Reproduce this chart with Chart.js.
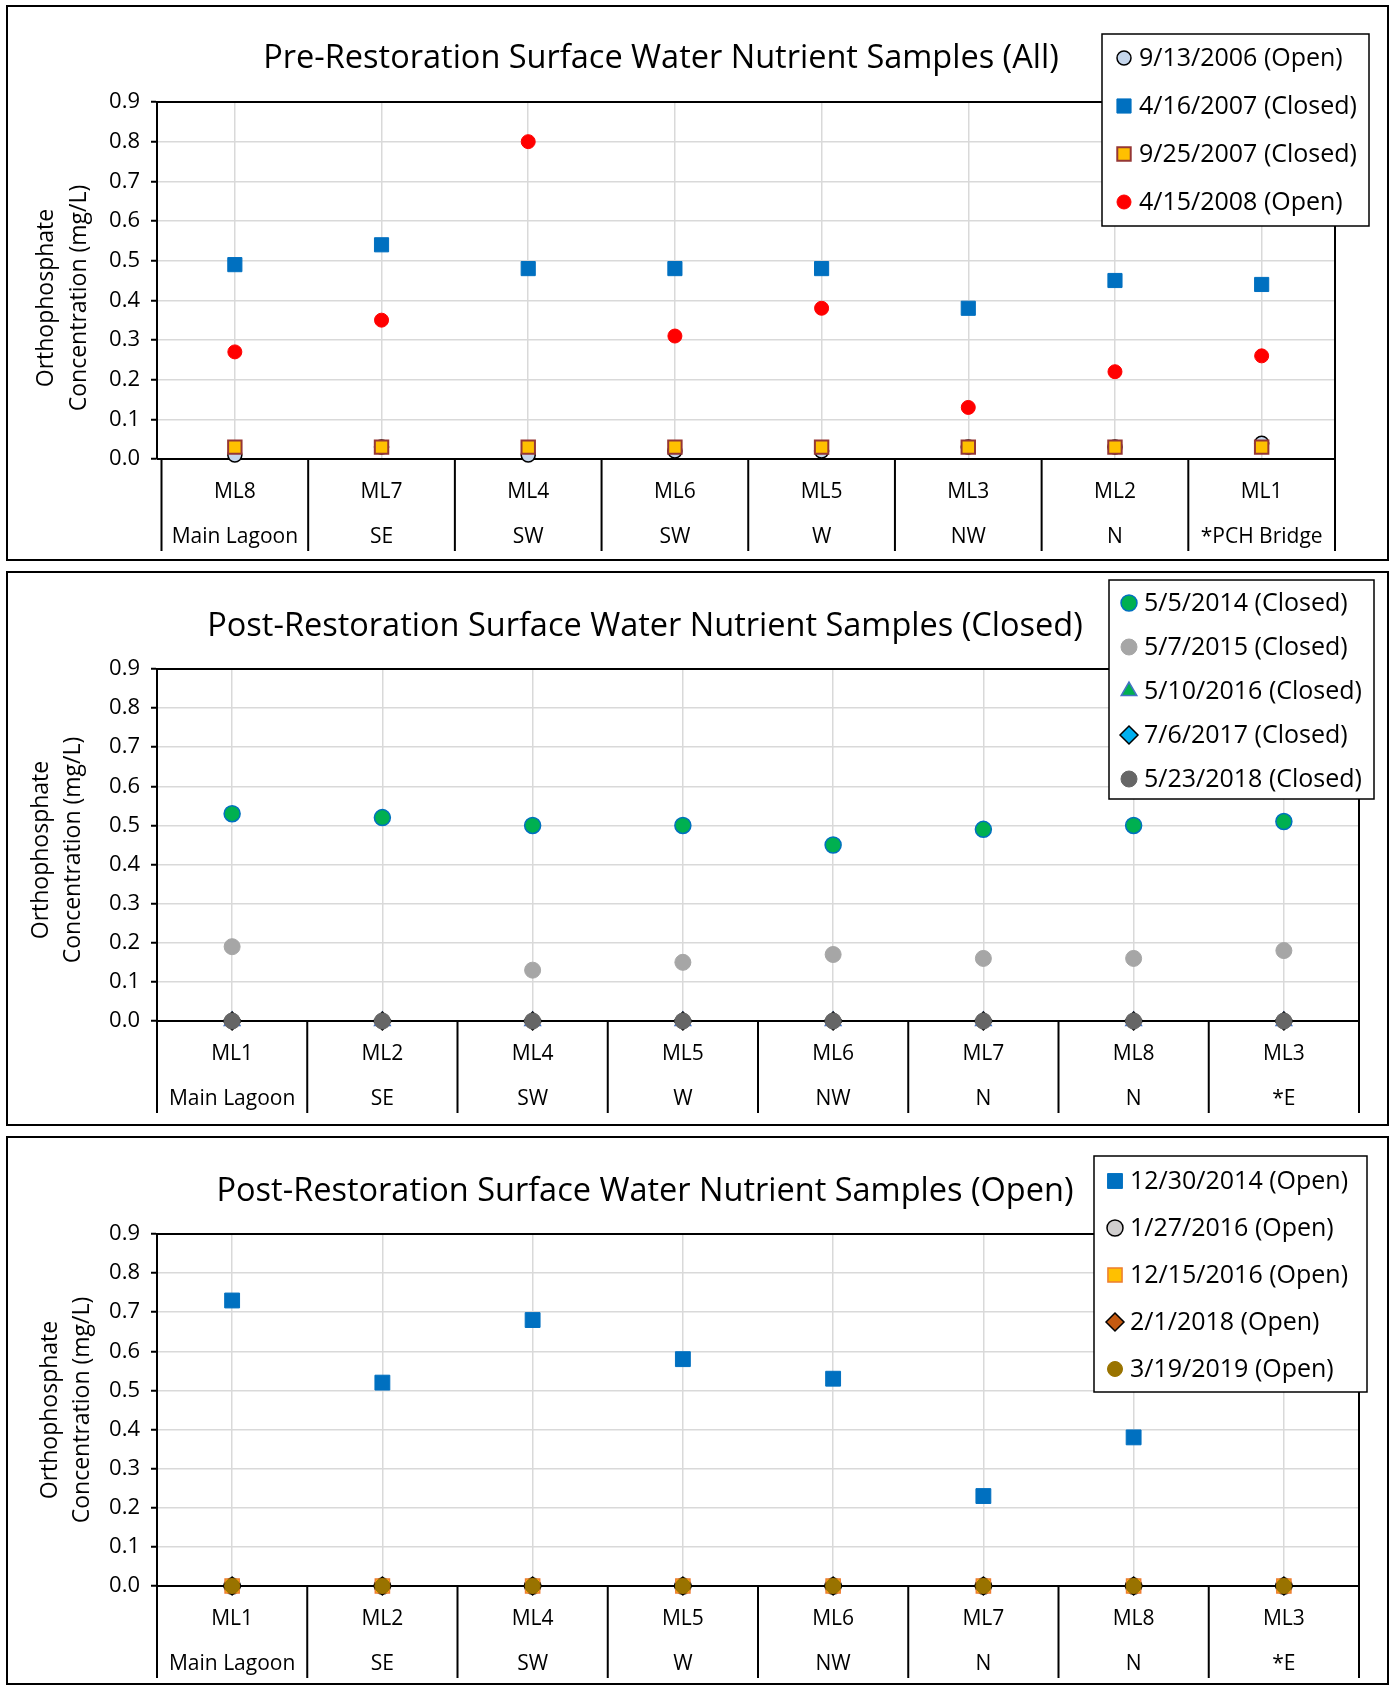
<!DOCTYPE html>
<html>
<head>
<meta charset="utf-8">
<script src="https://cdn.jsdelivr.net/npm/chart.js@4.4.0/dist/chart.umd.min.js"></script>
<style>
  body { margin: 0; background: #fff; width: 1391px; height: 1688px; position: relative; }
  .panel { position: absolute; left: 6px; width: 1383px; box-sizing: border-box; border: 2px solid #000; }
  canvas { position: absolute; left: 6px; }
</style>
</head>
<body>
<div class="panel" style="top:5px;height:556px"></div>
<canvas id="pre" width="1383" height="556" style="top:5px"></canvas>
<div class="panel" style="top:571px;height:555px"></div>
<canvas id="closed" width="1383" height="555" style="top:571px"></canvas>
<div class="panel" style="top:1136px;height:549px"></div>
<canvas id="open" width="1383" height="549" style="top:1136px"></canvas>
<script>
// pre-restoration
const preSites = ['ML8', 'ML7', 'ML4', 'ML6', 'ML5', 'ML3', 'ML2', 'ML1'];
const preAreas = ['Main Lagoon', 'SE', 'SW', 'SW', 'W', 'NW', 'N', '*PCH Bridge'];
const preSeries = ['9/13/2006 (Open)', '4/16/2007 (Closed)', '9/25/2007 (Closed)', '4/15/2008 (Open)'];
const preSep2006 = [0.01, 0.03, 0.01, 0.02, 0.02, 0.03, 0.03, 0.04];
const preApr2007 = [0.49, 0.54, 0.48, 0.48, 0.48, 0.38, 0.45, 0.44];
const preSep2007 = [0.03, 0.03, 0.03, 0.03, 0.03, 0.03, 0.03, 0.03];
const preApr2008 = [0.27, 0.35, 0.80, 0.31, 0.38, 0.13, 0.22, 0.26];

// post-restoration (both charts share sites)
const postSites = ['ML1', 'ML2', 'ML4', 'ML5', 'ML6', 'ML7', 'ML8', 'ML3'];
const postAreas = ['Main Lagoon', 'SE', 'SW', 'W', 'NW', 'N', 'N', '*E'];

const closedSeries = ['5/5/2014 (Closed)', '5/7/2015 (Closed)', '5/10/2016 (Closed)', '7/6/2017 (Closed)', '5/23/2018 (Closed)'];
const closed2014 = [0.53, 0.52, 0.50, 0.50, 0.45, 0.49, 0.50, 0.51];
const closed2015 = [0.19, null, 0.13, 0.15, 0.17, 0.16, 0.16, 0.18];
const closed2016 = [0, 0, 0, 0, 0, 0, 0, 0];
const closed2017 = [0, 0, 0, 0, 0, 0, 0, 0];
const closed2018 = [0, 0, 0, 0, 0, 0, 0, 0];

const openSeries = ['12/30/2014 (Open)', '1/27/2016 (Open)', '12/15/2016 (Open)', '2/1/2018 (Open)', '3/19/2019 (Open)'];
const openDec2014 = [0.73, 0.52, 0.68, 0.58, 0.53, 0.23, 0.38, null];
const openJan2016 = [0, 0, 0, 0, 0, 0, 0, 0];
const openDec2016 = [0, 0, 0, 0, 0, 0, 0, 0];
const openFeb2018 = [0, 0, 0, 0, 0, 0, 0, 0];
const openMar2019 = [0, 0, 0, 0, 0, 0, 0, 0];

const yTicks = [0, 0.1, 0.2, 0.3, 0.4, 0.5, 0.6, 0.7, 0.8, 0.9];

Chart.defaults.font.family = '"Open Sans", sans-serif';
Chart.defaults.color = '#000';

function marker(style, radius, fill, border, borderWidth) {
  return { pointStyle: style, radius: radius, fill: fill, border: border, borderWidth: borderWidth };
}

function drawMarker(ctx, m, x, y) {
  ctx.save();
  ctx.fillStyle = m.fill;
  ctx.strokeStyle = m.border;
  ctx.lineWidth = m.borderWidth;
  Chart.helpers.drawPoint(ctx, { pointStyle: m.pointStyle, radius: m.radius, rotation: 0, borderWidth: m.borderWidth }, x, y);
  ctx.restore();
}

// title, axis title, frame, dividers and legend
const decor = {
  id: 'decor',
  afterLayout(chart, args, o) {
    // category band starts a little right of the value axis in the first chart
    if (o.xShift) {
      const xs = chart.scales.x;
      xs.left += o.xShift;
      xs.configure();
    }
  },
  beforeDatasetsDraw(chart, args, o) {
    const { ctx, chartArea: a } = chart;
    const xs = chart.scales.x;
    const n = chart.data.labels.length;
    ctx.save();
    ctx.strokeStyle = '#000';
    ctx.lineWidth = 2;
    ctx.beginPath();
    ctx.moveTo(a.left, a.bottom);
    ctx.lineTo(a.right, a.bottom);
    ctx.moveTo(a.left, a.top);
    ctx.lineTo(a.right, a.top);
    ctx.lineTo(a.right, a.bottom);
    for (let i = 0; i <= n; i++) {
      let px;
      if (i === 0) px = xs.left;
      else if (i === n) px = xs.right;
      else px = (xs.getPixelForValue(i - 1) + xs.getPixelForValue(i)) / 2;
      ctx.moveTo(px, a.bottom);
      ctx.lineTo(px, a.bottom + o.dividerLen);
    }
    ctx.stroke();
    ctx.restore();
  },
  afterDraw(chart, args, o) {
    const ctx = chart.ctx;
    ctx.save();
    ctx.fillStyle = '#000';
    ctx.textAlign = 'center';
    ctx.textBaseline = 'middle';
    ctx.font = '32.5px "Open Sans"';
    ctx.fillText(o.title, o.titleX, o.titleY);

    ctx.font = '23px "Open Sans"';
    ctx.save();
    ctx.translate(0, o.yTitleY);
    ctx.rotate(-Math.PI / 2);
    ctx.fillText('Orthophosphate', 0, o.yTitleX[0]);
    ctx.fillText('Concentration (mg/L)', 0, o.yTitleX[1]);
    ctx.restore();

    const L = o.legend;
    ctx.fillStyle = '#fff';
    ctx.fillRect(L.x, L.y, L.w, L.h);
    ctx.strokeStyle = '#000';
    ctx.lineWidth = 1.5;
    ctx.strokeRect(L.x, L.y, L.w, L.h);
    ctx.font = '25px "Open Sans"';
    ctx.textAlign = 'left';
    chart.data.datasets.forEach((ds, i) => {
      const y = L.y0 + i * L.step;
      drawMarker(ctx, o.markers[i], L.markerX, y);
      ctx.fillStyle = '#000';
      ctx.fillText(ds.label, L.textX, y + 1);
    });
    ctx.restore();
  }
};

function buildChart(id, sites, areas, names, values, markers, layout) {
  const n = names.length;
  const datasets = names.map((name, i) => ({
    label: name,
    data: values[i],
    showLine: false,
    clip: false,
    order: n - i,
    pointStyle: markers[i].pointStyle,
    pointRadius: markers[i].radius,
    pointHoverRadius: markers[i].radius,
    pointBackgroundColor: markers[i].fill,
    pointBorderColor: markers[i].border,
    pointBorderWidth: markers[i].borderWidth,
    pointHoverBorderWidth: markers[i].borderWidth
  }));

  return new Chart(document.getElementById(id), {
    type: 'line',
    data: { labels: sites.map((s, i) => [s, areas[i]]), datasets: datasets },
    plugins: [decor],
    options: {
      responsive: false,
      animation: false,
      layout: { padding: { left: 0, top: layout.top, right: layout.right, bottom: layout.bottom } },
      plugins: {
        legend: { display: false },
        title: { display: false },
        tooltip: { enabled: false },
        decor: Object.assign({ markers: markers, dividerLen: 92 }, layout.decor)
      },
      scales: {
        x: {
          offset: true,
          afterFit: (s) => { s.height = 92; },
          grid: { offset: false, color: '#d9d9d9', lineWidth: 1.5, drawTicks: false },
          border: { display: false },
          ticks: { padding: 10, font: { size: 21, lineHeight: 2.15 }, maxRotation: 0, autoSkip: false }
        },
        y: {
          min: 0,
          max: 0.9,
          afterFit: (s) => { s.width = 151; },
          afterBuildTicks: (s) => { s.ticks = yTicks.map(v => ({ value: v })); },
          grid: { color: '#d9d9d9', lineWidth: 1.5, tickColor: '#000', tickLength: 6, tickWidth: 2 },
          border: { color: '#000', width: 2 },
          ticks: { padding: 11, font: { size: 22 }, callback: (v) => Number(v).toFixed(1) }
        }
      }
    }
  });
}

buildChart('pre', preSites, preAreas, preSeries,
  [preSep2006, preApr2007, preSep2007, preApr2008],
  [
    marker('circle', 7, '#c5d6ec', '#000', 1.5),
    marker('rect', 10, '#0070c0', '#0070c0', 1),
    marker('rect', 9.5, '#ffc000', '#953735', 2),
    marker('circle', 7, '#ff0000', '#ff0000', 1)
  ],
  {
    top: 97, right: 54, bottom: 10,
    decor: {
      xShift: 4.5,
      title: 'Pre-Restoration Surface Water Nutrient Samples (All)', titleX: 655, titleY: 54,
      yTitleX: [40, 73], yTitleY: 293,
      legend: { x: 1096, y: 29, w: 267, h: 192, y0: 53, step: 48, markerX: 1118, textX: 1133 }
    }
  });

buildChart('closed', postSites, postAreas, closedSeries,
  [closed2014, closed2015, closed2016, closed2017, closed2018],
  [
    marker('circle', 8, '#00b050', '#0070c0', 1.5),
    marker('circle', 8, '#a6a6a6', '#a6a6a6', 1),
    marker('triangle', 9, '#00b050', '#4472c4', 1.5),
    marker('rectRot', 9, '#00b0f0', '#000', 1.5),
    marker('circle', 8, '#666666', '#666666', 1)
  ],
  {
    top: 98, right: 30, bottom: 13,
    decor: {
      title: 'Post-Restoration Surface Water Nutrient Samples (Closed)', titleX: 639, titleY: 56,
      yTitleX: [35, 67], yTitleY: 279,
      legend: { x: 1103, y: 9, w: 265, h: 219, y0: 32, step: 44, markerX: 1123, textX: 1138 }
    }
  });

buildChart('open', postSites, postAreas, openSeries,
  [openDec2014, openJan2016, openDec2016, openFeb2018, openMar2019],
  [
    marker('rect', 10.5, '#0070c0', '#0070c0', 1),
    marker('circle', 8, '#d0cece', '#000', 1.5),
    marker('rect', 10, '#ffc000', '#ed7d31', 1.5),
    marker('rectRot', 9, '#c55a11', '#000', 1.5),
    marker('circle', 7.5, '#997300', '#997300', 1)
  ],
  {
    top: 98, right: 30, bottom: 7,
    decor: {
      title: 'Post-Restoration Surface Water Nutrient Samples (Open)', titleX: 639, titleY: 56,
      yTitleX: [44, 76], yTitleY: 274,
      legend: { x: 1088, y: 20, w: 273, h: 236, y0: 45, step: 47, markerX: 1109, textX: 1124 }
    }
  });
</script>
</body>
</html>
